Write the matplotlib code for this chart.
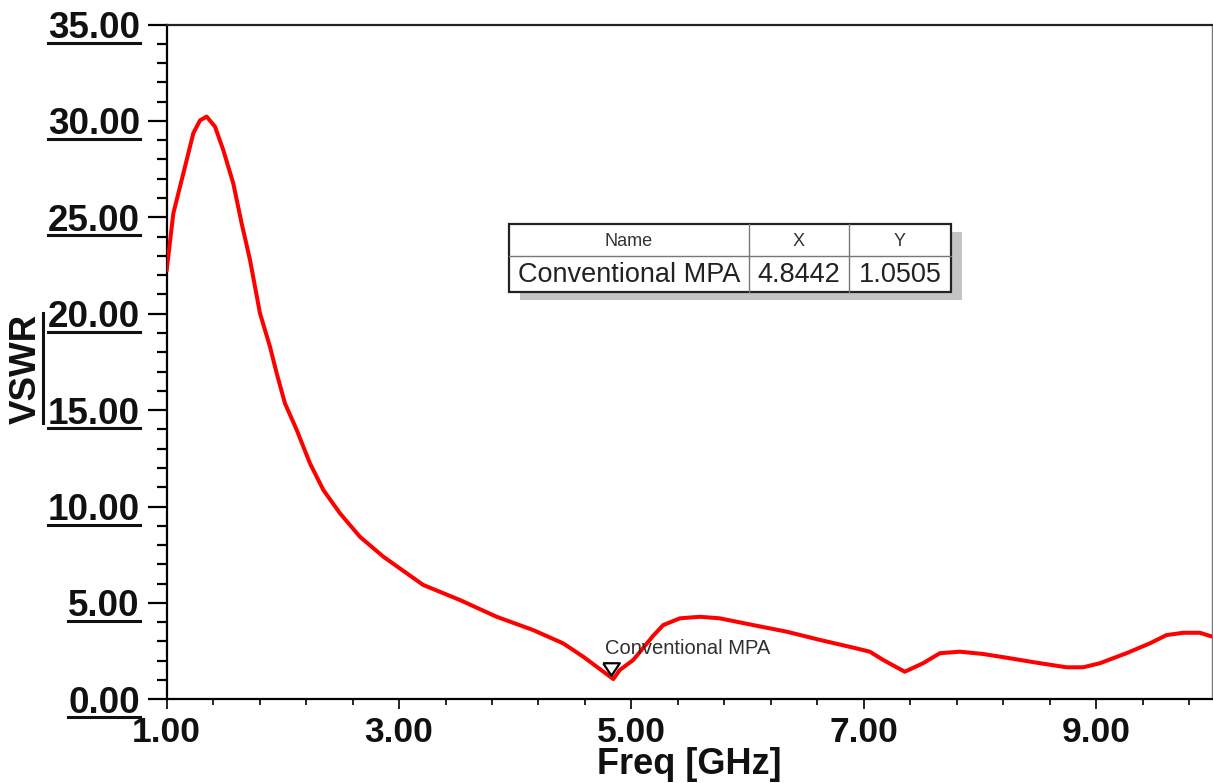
import numpy as np
import matplotlib
matplotlib.use("Agg")
import matplotlib.pyplot as plt
from matplotlib.ticker import FixedLocator, MultipleLocator, FormatStrFormatter
from matplotlib.patches import Rectangle
from matplotlib.lines import Line2D
from matplotlib.transforms import offset_copy

# ---- data ----
freq = [1.00, 1.057, 1.115, 1.172, 1.229, 1.287, 1.344, 1.416, 1.487, 1.573,
        1.645, 1.717, 1.803, 1.889, 1.947, 2.018, 2.119, 2.233, 2.348, 2.491,
        2.663, 2.864, 3.208, 3.524, 3.84, 4.155, 4.413, 4.585, 4.8442, 4.90,
        5.016, 5.188, 5.274, 5.417, 5.589, 5.76, 6.048, 6.335, 6.622, 6.881,
        7.052, 7.167, 7.353, 7.51, 7.655, 7.827, 8.028, 8.257, 8.487, 8.745,
        8.888, 9.032, 9.261, 9.462, 9.606, 9.749, 9.893, 10.0]
vswr = [22.27, 25.20, 26.60, 27.97, 29.36, 30.03, 30.22, 29.70, 28.49, 26.76,
        24.69, 22.79, 20.02, 18.29, 16.90, 15.35, 13.97, 12.24, 10.86, 9.65,
        8.43, 7.40, 5.93, 5.15, 4.28, 3.59, 2.90, 2.21, 1.0505, 1.52,
        2.04, 3.30, 3.85, 4.20, 4.28, 4.20, 3.85, 3.51, 3.08, 2.72,
        2.47, 2.04, 1.43, 1.87, 2.39, 2.47, 2.35, 2.13, 1.90, 1.66,
        1.66, 1.87, 2.39, 2.90, 3.33, 3.45, 3.45, 3.25]
marker_name = "Conventional MPA"
marker_x = 4.8442
marker_y = 1.0505
table_header = ["Name", "X", "Y"]
table_row = [marker_name, "4.8442", "1.0505"]
x_major = [1, 3, 5, 7, 9]
x_minor = list(np.arange(1.0, 10.01, 0.4))

W, H = 1213, 783
fig = plt.figure(figsize=(W / 100, H / 100), dpi=100)
plt.rcParams['font.family'] = ['Liberation Sans', 'DejaVu Sans']


def fx(x):
    return x / W


def fy(y):
    return 1 - y / H


ax_l, ax_r, ax_t, ax_b = 166.7, 1212.3, 24.5, 699.3
ax = fig.add_axes([fx(ax_l), fy(ax_b), (ax_r - ax_l) / W, (ax_b - ax_t) / H])
ax.set_xlim(1, 10)
ax.set_ylim(0, 35)

ax.plot(freq, vswr, color='#ff0000', lw=2.9, solid_joinstyle='round', zorder=3)

# marker triangle
tri = [(-1, 0.75), (1, 0.75), (0, -0.75), (-1, 0.75)]
trans = offset_copy(ax.transData, fig=fig, x=-2, y=10.5, units='dots')
ax.plot([marker_x], [marker_y], marker=tri, markersize=12, markerfacecolor='white',
        markeredgecolor='black', markeredgewidth=1.6, linestyle='none',
        transform=trans, zorder=4, clip_on=False)
fig.text(fx(605), fy(648), marker_name, fontsize=14.5, color='#303030',
         ha='left', va='center')

# spines
for s in ['left', 'bottom']:
    ax.spines[s].set_linewidth(1.6)
    ax.spines[s].set_color('black')
ax.spines['top'].set_linewidth(1.6)
ax.spines['top'].set_color('#222222')
ax.spines['right'].set_linewidth(1.0)
ax.spines['right'].set_color('#777777')

# ticks
ax.xaxis.set_major_locator(FixedLocator(x_major))
ax.xaxis.set_minor_locator(FixedLocator(x_minor))
ax.yaxis.set_major_locator(MultipleLocator(5))
ax.yaxis.set_minor_locator(MultipleLocator(1))
ax.xaxis.set_major_formatter(FormatStrFormatter('%.2f'))
ax.yaxis.set_major_formatter(FormatStrFormatter('%.2f'))
ax.tick_params(axis='y', which='major', direction='out', length=13.5, width=1.6,
               pad=5.8, labelsize=26.5)
ax.tick_params(axis='y', which='minor', direction='out', length=7.5, width=1.6)
ax.tick_params(axis='x', which='major', direction='out', length=7.5, width=1.2,
               pad=4.3, labelsize=25.5)
ax.tick_params(axis='x', which='minor', direction='out', length=4.3, width=1.2)
for lab in ax.get_xticklabels() + ax.get_yticklabels():
    lab.set_fontweight('bold')
    lab.set_color('#111111')

# axis labels
fig.text(fx(26), fy(369), 'VSWR', rotation=90, fontsize=26.5, fontweight='bold',
         ha='center', va='center', color='#111111')
fig.add_artist(Line2D([fx(43), fx(43)], [fy(313), fy(423)], color='#111111', lw=2.2))
fig.text(fx(689), fy(774), 'Freq [GHz]', fontsize=26, fontweight='bold',
         ha='center', va='baseline', color='#111111')

# marker table with shadow
tx0, tx1, ty0, ty1 = 509, 951, 224, 292
ty_mid = 256
cx1, cx2 = 749, 849
fig.add_artist(Rectangle((fx(tx0 + 11), fy(ty1 + 8)), (tx1 - tx0) / W, (ty1 - ty0) / H,
                         transform=fig.transFigure, facecolor='#c4c4c4',
                         edgecolor='none', zorder=5))
fig.add_artist(Rectangle((fx(tx0), fy(ty1)), (tx1 - tx0) / W, (ty1 - ty0) / H,
                         transform=fig.transFigure, facecolor='white',
                         edgecolor='#222222', lw=1.6, zorder=6))
fig.add_artist(Line2D([fx(tx0), fx(tx1)], [fy(ty_mid), fy(ty_mid)], color='#777777',
                      lw=1.0, zorder=7))
for cx in (cx1, cx2):
    fig.add_artist(Line2D([fx(cx), fx(cx)], [fy(ty0), fy(ty1)], color='#777777',
                          lw=1.0, zorder=7))
col_centers = [(tx0 + cx1) / 2, (cx1 + cx2) / 2, (cx2 + tx1) / 2]
for c, t in zip(col_centers, table_header):
    fig.text(fx(c), fy(241), t, fontsize=13, ha='center', va='center',
             color='#333333', zorder=8)
for c, t in zip(col_centers, table_row):
    fig.text(fx(c), fy(275), t, fontsize=19.5, ha='center', va='center',
             color='#222222', zorder=8)

# underline the y tick labels
fig.canvas.draw()
renderer = fig.canvas.get_renderer()
for tick in ax.yaxis.get_major_ticks():
    lab = tick.label1
    v = tick.get_loc()
    if not lab.get_visible() or v < -0.01 or v > 35.01:
        continue
    bb = lab.get_window_extent(renderer)
    yd = ax.transData.transform((1, v))[1] - 18
    fig.add_artist(Line2D([bb.x0 / W, bb.x1 / W], [yd / H, yd / H],
                          color='#111111', lw=2.2, clip_on=False))

fig.savefig('out.png', dpi=100)
